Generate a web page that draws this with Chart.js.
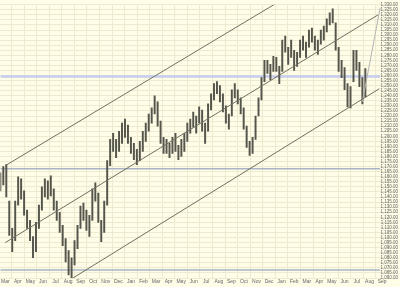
<!DOCTYPE html>
<html>
<head>
<meta charset="utf-8">
<script src="https://cdn.jsdelivr.net/npm/chart.js@4/dist/chart.umd.min.js"></script>
<style>
  html, body { margin: 0; padding: 0; background: #fffde8; }
  #wrap { width: 400px; height: 287px; }
</style>
</head>
<body>
<div id="wrap"><canvas id="chart"></canvas></div>
<script>
// weekly price bars (x = week number)
const months = ["Mar","Apr","May","Jun","Jul","Aug","Sep","Oct","Nov","Dec","Jan","Feb",
  "Mar","Apr","May","Jun","Jul","Aug","Sep","Oct","Nov","Dec","Jan","Feb",
  "Mar","Apr","May","Jun","Jul","Aug","Sep"];

const highs = [1164,1170,1172,1136,1109,1136,1160,1158,1146,1127,
  1117,1101,1115,1132,1150,1158,1156,1161,1148,1136,
  1125,1112,1099,1087,1080,1097,1112,1131,1134,1127,
  1122,1148,1154,1144,1117,1136,1176,1197,1203,1197,
  1205,1213,1217,1211,1199,1193,1187,1195,1205,1213,
  1222,1228,1240,1234,1215,1199,1197,1193,1199,1203,
  1191,1197,1203,1213,1217,1224,1220,1229,1226,1213,
  1232,1242,1252,1254,1250,1242,1230,1222,1246,1252,
  1246,1238,1228,1210,1195,1199,1220,1238,1258,1275,
  1275,1271,1279,1278,1269,1295,1299,1288,1295,1285,
  1283,1295,1299,1293,1305,1307,1299,1295,1305,1309,
  1316,1322,1326,1312,1288,1275,1268,1252,1249,1285,
  1285,1273,1258,1267];

const lows = [1146,1152,1140,1102,1086,1097,1132,1138,1122,1109,
  1097,1080,1086,1109,1127,1140,1138,1141,1127,1117,
  1105,1092,1076,1063,1059,1073,1089,1109,1117,1107,
  1101,1117,1136,1115,1096,1105,1132,1171,1185,1179,
  1185,1193,1199,1193,1183,1177,1172,1176,1185,1195,
  1205,1213,1222,1210,1193,1183,1183,1179,1183,1185,
  1177,1180,1185,1195,1203,1209,1203,1213,1205,1193,
  1205,1226,1236,1242,1234,1224,1213,1207,1220,1238,
  1232,1222,1207,1189,1181,1183,1197,1220,1236,1254,
  1262,1256,1264,1264,1252,1264,1283,1271,1278,1265,
  1269,1278,1285,1278,1288,1293,1285,1281,1291,1295,
  1303,1310,1312,1285,1264,1258,1246,1229,1228,1254,
  1265,1249,1232,1239];

// trend channel lines: [week, price]
const upperLine  = [[1.67, 1171], [93.3, 1332]];
const middleLine = [[1.67, 1095], [127.3, 1320]];
const lowerLine  = [[21.7, 1055], [127.7, 1247]];
const steepLine  = [[122, 1234], [128, 1327]];
const levels = [1259, 1168, 1068];

const xMax = 133.33;
const toPts = arr => arr.map(p => ({ x: p[0], y: p[1] }));

const datasets = [
  {
    type: "bar",
    data: highs.map((h, i) => ({ x: i, y: [lows[i], h] })),
    backgroundColor: "#55554c",
    barThickness: 1.3,
    order: 2
  }
];

levels.forEach((lv, i) => {
  datasets.push({
    type: "line",
    data: [{ x: 0, y: lv }, { x: 128, y: lv }],
    borderColor: i === 0 ? "#c6ccf0" : "#a9b5c6",
    borderWidth: i === 0 ? 2.5 : 1.5,
    pointRadius: 0,
    order: 3
  });
});

[upperLine, middleLine, lowerLine].forEach(l => {
  datasets.push({
    type: "line",
    data: toPts(l),
    borderColor: "#707062",
    borderWidth: 1,
    pointRadius: 0,
    order: 1
  });
});
datasets.push({
  type: "line",
  data: toPts(steepLine),
  borderColor: "#b4b4b4",
  borderWidth: 1,
  pointRadius: 0,
  order: 1
});

const bgPlugin = {
  id: "bg",
  beforeDraw(chart) {
    const c = chart.ctx;
    c.save();
    c.fillStyle = "#fffde8";
    c.fillRect(0, 0, chart.width, chart.height);
    c.restore();
  }
};

new Chart(document.getElementById("chart"), {
  data: { datasets },
  plugins: [bgPlugin],
  options: {
    responsive: true,
    maintainAspectRatio: false,
    animation: false,
    layout: { padding: { top: 2, left: 0, right: 0, bottom: 0 } },
    plugins: { legend: { display: false }, tooltip: { enabled: false } },
    scales: {
      x: {
        type: "linear",
        min: 0,
        max: xMax,
        offset: false,
        afterBuildTicks: s => { s.ticks = months.map((m, k) => ({ value: 1.667 + k * 4.233 })); },
        afterFit: s => { s.height = 9; },
        ticks: {
          autoSkip: false,
          maxRotation: 0,
          padding: 1,
          color: "#666",
          font: { family: "Liberation Sans", size: 5 },
          callback: (v, i) => months[i]
        },
        grid: { color: "#eeeacf", lineWidth: 1, drawTicks: false },
        border: { display: false }
      },
      y: {
        position: "right",
        min: 1060,
        max: 1330,
        ticks: {
          stepSize: 5,
          autoSkip: false,
          mirror: true,
          padding: 2,
          color: "#666",
          font: { family: "Liberation Sans", size: 4.5 },
          callback: v => v.toLocaleString("en-US", { minimumFractionDigits: 2, maximumFractionDigits: 2 })
        },
        grid: { color: "#eeeacf", lineWidth: 1, drawTicks: false },
        border: { display: false }
      }
    }
  }
});
</script>
</body>
</html>
